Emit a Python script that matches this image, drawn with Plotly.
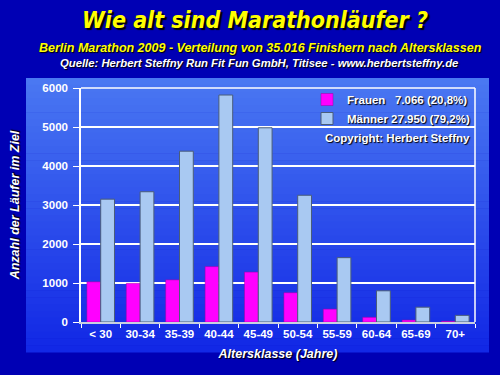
import plotly.graph_objects as go

categories = ["< 30", "30-34", "35-39", "40-44", "45-49", "50-54", "55-59", "60-64", "65-69", "70+"]
frauen = [1030, 990, 1080, 1420, 1280, 750, 330, 120, 50, 20]
maenner = [3150, 3340, 4380, 5820, 4980, 3250, 1650, 800, 380, 170]
legend_frauen = "Frauen\u00a0\u00a0\u00a07.066 (20,8%)"
legend_maenner = "Männer 27.950 (79,2%)"
y_ticks = [0, 1000, 2000, 3000, 4000, 5000, 6000]

W, H = 500, 375
L, R, T, B = 81, 25, 88, 53
pw, ph = W - L - R, H - T - B

def px2x(px):
    return (px - L) / pw

def py2y(py):
    return (H - B - py) / ph

fig = go.Figure()
fig.add_trace(go.Bar(x=categories, y=frauen, name=legend_frauen,
                     marker=dict(color="#ff00ff", line=dict(color="#a000a0", width=0.5))))
fig.add_trace(go.Bar(x=categories, y=maenner, name=legend_maenner,
                     marker=dict(color="#a9c9f2", line=dict(color="#4a5d7a", width=1))))

# gradient panel behind the chart
shapes = []
n = 40
top_c = (74, 120, 242)
bot_c = (18, 40, 230)
y0p, y1p = 78, 352
for i in range(n):
    t = i / (n - 1)
    c = tuple(int(top_c[k] + (bot_c[k] - top_c[k]) * t) for k in range(3))
    ya = y0p + (y1p - y0p) * i / n
    yb = y0p + (y1p - y0p) * (i + 1) / n + 0.5
    shapes.append(dict(type="rect", xref="paper", yref="paper",
                       x0=px2x(26), x1=px2x(489), y0=py2y(yb), y1=py2y(ya),
                       fillcolor="rgb(%d,%d,%d)" % c, line=dict(width=0), layer="below"))
# back wall border (top and right)
shapes.append(dict(type="line", xref="paper", yref="paper", x0=0, x1=1, y0=1, y1=1,
                   line=dict(color="white", width=1.5), layer="below"))
shapes.append(dict(type="line", xref="paper", yref="paper", x0=1, x1=1, y0=0, y1=1,
                   line=dict(color="white", width=1.5), layer="below"))

shadow = "1px 1px 1px black"
annotations = [
    dict(text="Wie alt sind Marathonläufer ?", x=px2x(255), y=py2y(20), xref="paper", yref="paper",
         showarrow=False, xanchor="center", yanchor="middle",
         font=dict(family="DejaVu Sans Condensed, sans-serif", size=23,
                   color="#ffff00", weight="bold", style="italic", shadow="2px 2px 1px black")),
    dict(text="Berlin Marathon 2009 - Verteilung von 35.016 Finishern nach Altersklassen",
         x=px2x(260), y=py2y(48), xref="paper", yref="paper", showarrow=False,
         xanchor="center", yanchor="middle",
         font=dict(family="Liberation Sans, Arial, sans-serif", size=12.5, color="#ffff00",
                   weight="bold", style="italic", shadow=shadow)),
    dict(text="Quelle: Herbert Steffny Run Fit Fun GmbH, Titisee - www.herbertsteffny.de",
         x=px2x(259), y=py2y(63), xref="paper", yref="paper", showarrow=False,
         xanchor="center", yanchor="middle",
         font=dict(family="Liberation Sans, Arial, sans-serif", size=11.3, color="white",
                   weight="bold", style="italic", shadow=shadow)),
    dict(text="Copyright: Herbert Steffny", x=px2x(472), y=py2y(138), xref="paper", yref="paper",
         showarrow=False, xanchor="right", yanchor="middle",
         font=dict(family="Liberation Sans, Arial, sans-serif", size=11.5, color="white",
                   weight="bold", shadow=shadow)),
]

fig.update_layout(
    template="none",
    autosize=False,
    width=W, height=H,
    margin=dict(l=L, r=R, t=T, b=B, pad=0),
    paper_bgcolor="#0000b4",
    plot_bgcolor="rgba(0,0,0,0)",
    barmode="group", bargap=0.3, bargroupgap=0,
    shapes=shapes, annotations=annotations,
    font=dict(family="Liberation Sans, Arial, sans-serif", color="white", size=11, weight="bold"),
    legend=dict(x=1, y=py2y(85), xanchor="right", yanchor="top",
                bgcolor="rgba(0,0,0,0)", borderwidth=0,
                font=dict(size=11.5, color="white", weight="bold", shadow=shadow),
                itemwidth=30, tracegroupgap=0),
    xaxis=dict(type="category", showgrid=False, ticks="outside", tickson="boundaries",
               ticklen=4, tickcolor="white", showline=True, linecolor="#c8d0e0", linewidth=1.5,
               tickangle=0, automargin=False, zeroline=False,
               tickfont=dict(size=11.5, color="white", weight="bold"),
               title=dict(text="Altersklasse (Jahre)", standoff=11,
                          font=dict(size=12.5, color="white", weight="bold", style="italic",
                                    shadow=shadow))),
    yaxis=dict(range=[0, 6000], tickvals=y_ticks, showgrid=True, gridcolor="white", gridwidth=1.5,
               ticks="outside", ticklen=6, tickcolor="white", showline=True, linecolor="white",
               linewidth=1.5, zeroline=False, automargin=False, ticklabelstandoff=3,
               tickfont=dict(size=11.5, color="white", weight="bold"),
               title=dict(text="Anzahl der Läufer im Ziel", standoff=20,
                          font=dict(size=12.5, color="white", weight="bold", style="italic",
                                    shadow=shadow))),
)

fig.write_html("out.html", config={"responsive": False, "displayModeBar": False},
               post_script="document.body.style.margin='0px';document.body.style.background='#0000b4';")
